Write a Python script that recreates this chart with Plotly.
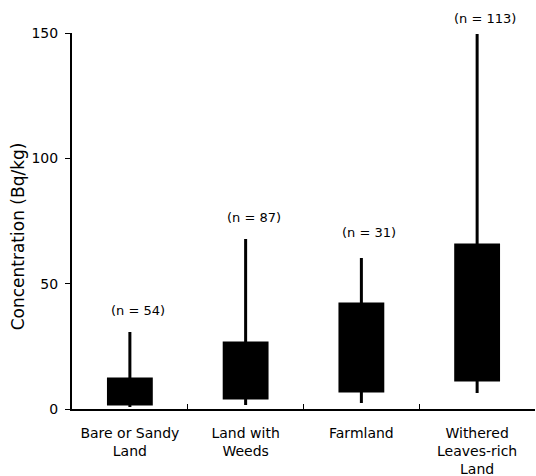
import plotly.graph_objects as go

categories = ["Bare or Sandy<br>Land", "Land with<br>Weeds", "Farmland", "Withered<br>Leaves-rich<br>Land"]
n_labels = ["(n = 54)", "(n = 87)", "(n = 31)", "(n = 113)"]
whisker_min = [0.8, 1.6, 2.4, 6.4]
box_low = [2.0, 4.4, 7.2, 11.6]
box_high = [12.0, 26.3, 41.9, 65.4]
whisker_max = [30.7, 67.8, 60.2, 149.6]
label_shift = [20, 20, 24, 14]

FONT = "DejaVu Sans, Verdana, sans-serif"

fig = go.Figure()
fig.add_trace(go.Box(
    x=categories,
    q1=box_low, q3=box_high, median=box_low,
    lowerfence=whisker_min, upperfence=whisker_max,
    fillcolor="black", line=dict(color="black", width=3),
    width=0.37, whiskerwidth=0, boxpoints=False, hoverinfo="skip",
    showlegend=False,
))

for c, lab, ymax, sh in zip(categories, n_labels, whisker_max, label_shift):
    fig.add_annotation(x=c, y=ymax, text=lab, showarrow=False, yanchor="bottom",
                       yshift=sh - 8, xshift=8, font=dict(size=13, color="black", family=FONT))

fig.add_annotation(xref="paper", yref="paper", x=-0.116, y=0.46, text="Concentration (Bq/kg)",
                   textangle=-90, showarrow=False, xanchor="center", yanchor="middle",
                   font=dict(size=17, color="black", family=FONT))

fig.update_layout(
    width=536, height=476,
    margin=dict(l=72, r=1, t=33, b=67, autoexpand=False),
    paper_bgcolor="white", plot_bgcolor="white",
    font=dict(family=FONT, color="black"),
)
fig.update_xaxes(
    type="category", range=[-0.5, 3.5], showline=True, linecolor="black", linewidth=2,
    ticks="inside", tickson="boundaries", ticklen=5, tickcolor="black", tickwidth=1,
    showgrid=False, tickfont=dict(size=14), ticklabelstandoff=10, automargin=False,
)
fig.update_yaxes(
    range=[0, 150], tickvals=[0, 50, 100, 150], showline=True, linecolor="black", linewidth=2,
    ticks="outside", ticklen=5, tickcolor="black", tickwidth=1, showgrid=False, zeroline=False,
    tickfont=dict(size=14), ticklabelstandoff=4, automargin=False,
)

fig.write_html("out.html", config={"displayModeBar": False},
               post_script="document.body.style.margin='0';")
